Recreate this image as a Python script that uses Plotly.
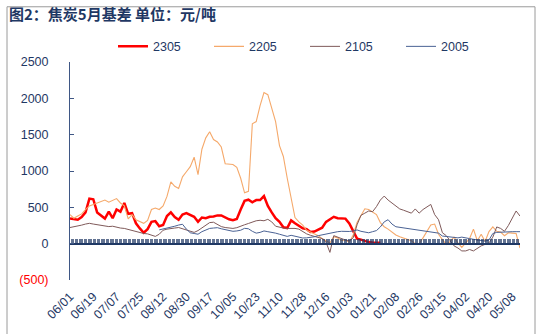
import pandas as pd
import plotly.graph_objects as go

# Day grid (every 3 days) for the May-contract basis chart, 2019-06-01 onward
dates = pd.date_range("2019-06-01", periods=117, freq="3D")

basis_2305 = [
    345, 335, 330, 367, 430, 620, 611, 430, 390, 345,
    440, 350, 470, 440, 560, 411, 420, 280, 210, 150,
    200, 300, 310, 240, 256, 380, 430, 367, 330, 400,
    420, 400, 370, 300, 360, 350, 370, 375, 389, 389,
    360, 335, 322, 340, 470, 589, 605, 570, 600, 600,
    655, 520, 430, 350, 300, 225, 215, 320, 280, 250,
    211, 200, 160, 167, 189, 220, 300, 340, 370, 350,
    350, 345, 278, 180, 70, 55, 34, 22, 15, 12,
    12,
] + [None] * 36

basis_2205 = [
    400, 350, 380, 410, 470, 520, 540, 560, 580, 600,
    570, 590, 620, 560, 520, 340, 400, 330, 300, 280,
    320, 470, 490, 470, 520, 650, 850, 790, 760, 920,
    990, 1060, 1190, 950, 1300, 1456, 1540, 1433, 1400, 1330,
    1100, 1100, 1090, 1050, 900, 700, 720, 1650, 1680, 1900,
    2080, 2050, 1850, 1680, 1350, 1200, 900, 640, 360, 300,
    256, 185, 160, 130, 110, 70, 34, 10, 95, 80,
    40, 50, 20, 120, 290, 390, 480, 470, 434, 400,
    290, 233, 200, 160, 120, 95, 75, 55, 40, 0,
    -5, 80, 160, 256, 270, 130, 55, -10, 30, 90,
    10, -50, 10, 70, 200, 40, 130, 30, 167, 230,
    170, 160, 110, 150, 145, 140, -60,
]

basis_2105 = [
    222, 230, 245, 255, 270, 280, 270, 260, 255, 250,
    235, 240, 225, 215, 210, 195, 185, 165, 150, 140,
    135, 115, 100, 130, 185, 200, 211, 215, 222, 205,
    190, 167, 155, 180, 220, 256, 290, 295, 265, 235,
    222, 215, 210, 220, 235, 260, 278, 300, 315, 322,
    315, 335, 300, 240, 222, 215, 210, 215, 210, 200,
    167, 135, 115, 100, 78, 70, 20, -120, 110, 90,
    60, 50, 40, 80, 260, 390, 420, 450, 440, 510,
    600, 655, 600, 555, 522, 478, 460, 440, 420, 478,
    420, 470, 510, 540, 400, 330, 150, 110, 40, -30,
    -60, -100, -100, -80, -100, -60, -30, -10, 10, 90,
    230, 210, 170, 250, 345, 450, 380,
]

basis_2005 = [None] * 23 + [
    190, 200, 215, 230, 240, 256, 267,
    200, 150, 140, 130, 165, 190, 210, 215, 220, 205,
    190, 180, 170, 175, 185, 211, 205, 170, 145, 155,
    175, 165, 160, 145, 130, 120, 100, 115, 100, 95,
    78, 80, 85, 95, 110, 122, 130, 145, 160, 165,
    170, 165, 168, 175, 189, 170, 160, 150, 165, 180,
    230, 300, 330, 270, 233, 225, 220, 211, 205, 195,
    190, 185, 175, 165, 160, 145, 105, 100, 95, 90,
    80, 90, 85, 70, 60, 50, 40, 35, 50, 140,
    155, 160, 155, 160, 165, 165, 165,
]

y_ticks = [-500, 0, 500, 1000, 1500, 2000, 2500]
y_tick_text = ['<span style="color:#FF0000">(500)</span>', "0", "500",
               "1000", "1500", "2000", "2500"]

NAVY = "#1F3864"
AXIS = "#3F5785"
FONT = "Liberation Sans, Arial, sans-serif"
DAY_MS = 86400000

fig = go.Figure()
fig.add_trace(go.Scatter(x=dates, y=basis_2305, name="2305", mode="lines",
                         line=dict(color="#FF0000", width=2.5)))
fig.add_trace(go.Scatter(x=dates, y=basis_2205, name="2205", mode="lines",
                         line=dict(color="#F5A96B", width=1.1)))
fig.add_trace(go.Scatter(x=dates, y=basis_2105, name="2105", mode="lines",
                         line=dict(color="#7F5A5A", width=1)))
# 2005 sits on the zero-crossing date axis (shares the range of x)
fig.add_trace(go.Scatter(x=dates, y=basis_2005, name="2005", mode="lines",
                         xaxis="x2",
                         line=dict(color="#4A6294", width=1)))

x_range = ["2019-06-01", "2020-05-14"]

fig.update_layout(
    width=538, height=334,
    margin=dict(l=70, r=18, t=62, b=47),
    paper_bgcolor="white", plot_bgcolor="white",
    showlegend=True,
    title=dict(text="<b>图2：焦炭5月基差 单位：元/吨</b>",
               font=dict(family="Noto Sans CJK SC", size=15, color=NAVY),
               x=9 / 538, xref="container", xanchor="left",
               y=1 - 15 / 334, yref="container", yanchor="middle"),
    legend=dict(orientation="h", x=(113 - 70) / 450,
                xanchor="left", y=1.07, yanchor="middle",
                entrywidth=51, entrywidthmode="pixels",
                font=dict(family=FONT, size=12.5, color=NAVY),
                bgcolor="rgba(0,0,0,0)", traceorder="normal"),
    xaxis=dict(type="date", range=x_range,
               tick0="2019-06-01", dtick=18 * DAY_MS, tickformat="%m/%d",
               tickangle=-45, ticks="", showline=False, showgrid=False,
               zeroline=False, ticklabelstandoff=6,
               tickfont=dict(family=FONT, size=12.5, color=NAVY)),
    xaxis2=dict(type="date", matches="x", overlaying="x",
                anchor="free", position=1 / 6, side="bottom",
                tick0="2019-06-01", dtick=DAY_MS,
                ticks="inside", ticklen=4, tickwidth=1,
                tickcolor="rgba(31,56,100,0.7)",
                showline=True, linecolor=NAVY, linewidth=1.5,
                showticklabels=False, showgrid=False, zeroline=False),
    yaxis=dict(range=[-500, 2500], tickmode="array",
               tickvals=y_ticks, ticktext=y_tick_text,
               ticks="inside", ticklen=4, tickcolor=AXIS,
               showline=True, linecolor=AXIS, linewidth=1,
               showgrid=False, zeroline=False, ticklabelstandoff=18,
               tickfont=dict(family=FONT, size=12.5, color=NAVY)),
    shapes=[dict(type="rect", xref="paper", yref="paper",
                 x0=(7 - 70) / 450, x1=(535 - 70) / 450,
                 y0=(287 - 345) / 225, y1=(287 - 5) / 225,
                 line=dict(color="#9A9A9A", width=1),
                 fillcolor="rgba(0,0,0,0)", layer="below")],
)

fig.write_html("out.html")
